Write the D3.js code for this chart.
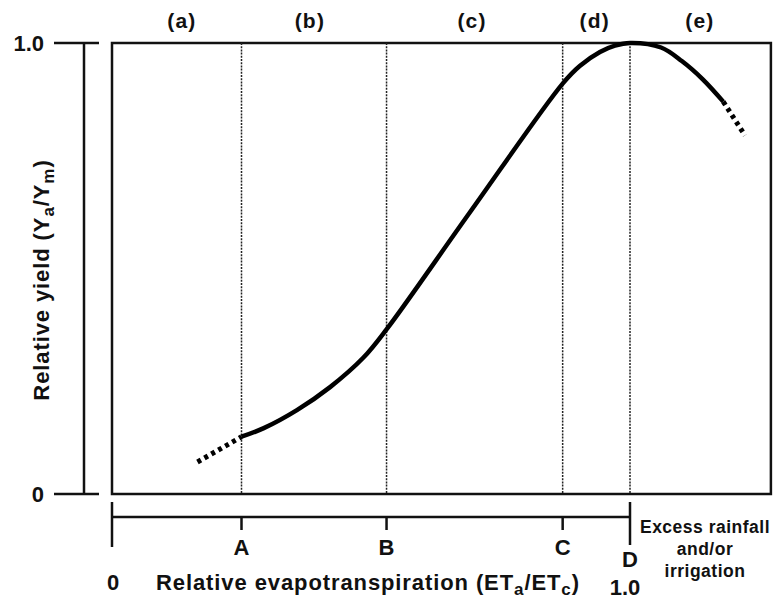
<!DOCTYPE html>
<html>
<head>
<meta charset="utf-8">
<script src="https://cdn.jsdelivr.net/npm/d3@7/dist/d3.min.js"></script>
<style>
  body { margin: 0; background: #fff; }
  text { font-family: "Liberation Sans", Arial, sans-serif; font-weight: bold; fill: #111; }
</style>
</head>
<body>
<svg width="773" height="601"></svg>
<script>
// stages across the top
var stageLabels = ["(a)", "(b)", "(c)", "(d)", "(e)"];
var stageX = [0.135, 0.382, 0.695, 0.932, 1.135];

// break points on the ET axis
var markNames = ["A", "B", "C", "D"];
var markX = [0.25, 0.53, 0.87, 1.0];

var yTicks = [0, 1.0];
var xMax = 1.272;

// yield response (x = ETa/ETc, y = Ya/Ym)
var dryTail = [[0.165, 0.071], [0.25, 0.127]];
var yieldCurve = [
  [0.25, 0.127], [0.293, 0.146], [0.357, 0.186], [0.421, 0.237], [0.485, 0.302],
  [0.53, 0.365], [0.69, 0.623], [0.87, 0.91], [0.903, 0.949], [0.942, 0.98],
  [0.971, 0.994], [1.0, 1.0], [1.06, 0.99], [1.10, 0.96], [1.14, 0.92], [1.18, 0.87]
];
var wetTail = [[1.18, 0.87], [1.222, 0.795]];

var svg = d3.select("svg");

var x = d3.scaleLinear().domain([0, 1]).range([112, 630]);
var y = d3.scaleLinear().domain([0, 1]).range([494, 43]);

var line = d3.line()
  .x(function(d) { return x(d[0]); })
  .y(function(d) { return y(d[1]); });

// plot frame
svg.append("rect")
  .attr("x", x(0)).attr("y", y(1))
  .attr("width", x(xMax) - x(0)).attr("height", y(0) - y(1))
  .attr("fill", "none").attr("stroke", "#111").attr("stroke-width", 2.5);

// dotted dividers
svg.append("g").selectAll("line")
  .data(markX)
  .enter().append("line")
    .attr("x1", function(d) { return x(d); })
    .attr("x2", function(d) { return x(d); })
    .attr("y1", y(1)).attr("y2", y(0))
    .attr("stroke", "#222").attr("stroke-width", 1.5)
    .attr("stroke-dasharray", "2,1.2");

// separate y axis bar with ticks
var yAxis = svg.append("g");
yAxis.append("line")
  .attr("x1", 84).attr("x2", 84)
  .attr("y1", y(1)).attr("y2", y(0))
  .attr("stroke", "#111").attr("stroke-width", 2.5);
yAxis.selectAll(".tick")
  .data(yTicks)
  .enter().append("line")
    .attr("x1", 54).attr("x2", 99)
    .attr("y1", function(d) { return y(d); })
    .attr("y2", function(d) { return y(d); })
    .attr("stroke", "#111").attr("stroke-width", 2.5);
yAxis.selectAll("text")
  .data(yTicks)
  .enter().append("text")
    .attr("x", 44).attr("y", function(d) { return y(d); })
    .attr("dy", "0.36em").attr("text-anchor", "end")
    .style("font-size", "22px")
    .text(function(d) { return d === 0 ? "0" : d3.format(".1f")(d); });

svg.append("text")
  .attr("transform", "translate(49,280) rotate(-90)")
  .attr("text-anchor", "middle")
  .style("font-size", "22px").style("letter-spacing", "0.9px")
  .html('Relative yield (Y<tspan dy="5" font-size="17">a</tspan><tspan dy="-5">/Y</tspan><tspan dy="5" font-size="17">m</tspan><tspan dy="-5">)</tspan>');

// x axis bar below the frame
var xAxis = svg.append("g");
var barY = 517;
xAxis.append("line")
  .attr("x1", x(0)).attr("x2", x(1))
  .attr("y1", barY).attr("y2", barY)
  .attr("stroke", "#111").attr("stroke-width", 2.5);
xAxis.selectAll(".end")
  .data([0, 1])
  .enter().append("line")
    .attr("x1", function(d) { return x(d); })
    .attr("x2", function(d) { return x(d); })
    .attr("y1", 502).attr("y2", function(d) { return d === 0 ? 547 : 545; })
    .attr("stroke", "#111").attr("stroke-width", 2.5);
xAxis.selectAll(".mark")
  .data(markX.slice(0, 3))
  .enter().append("line")
    .attr("x1", function(d) { return x(d); })
    .attr("x2", function(d) { return x(d); })
    .attr("y1", barY).attr("y2", barY + 13)
    .attr("stroke", "#111").attr("stroke-width", 2.5);
xAxis.selectAll(".markLabel")
  .data(markNames)
  .enter().append("text")
    .attr("x", function(d, i) { return x(markX[i]); })
    .attr("y", function(d, i) { return i === 3 ? 567 : 555; })
    .attr("text-anchor", "middle")
    .style("font-size", "22px")
    .text(function(d) { return d; });

xAxis.append("text")
  .attr("x", x(0) + 1).attr("y", 590)
  .attr("text-anchor", "middle").style("font-size", "22px")
  .text("0");
xAxis.append("text")
  .attr("x", x(1) - 5).attr("y", 595)
  .attr("text-anchor", "middle").style("font-size", "22px")
  .text("1.0");

svg.append("text")
  .attr("x", 368).attr("y", 590)
  .attr("text-anchor", "middle")
  .style("font-size", "22px").style("letter-spacing", "0.9px")
  .html('Relative evapotranspiration (ET<tspan dy="5" font-size="17">a</tspan><tspan dy="-5">/ET</tspan><tspan dy="5" font-size="17">c</tspan><tspan dy="-5">)</tspan>');

var excess = ["Excess rainfall", "and/or", "irrigation"];
svg.append("g").selectAll("text")
  .data(excess)
  .enter().append("text")
    .attr("x", 705).attr("y", function(d, i) { return 533 + i * 22; })
    .attr("text-anchor", "middle")
    .style("font-size", "17.5px").style("letter-spacing", "0.5px")
    .text(function(d) { return d; });

// stage labels
svg.append("g").selectAll("text")
  .data(stageLabels)
  .enter().append("text")
    .attr("x", function(d, i) { return x(stageX[i]); })
    .attr("y", 28)
    .attr("text-anchor", "middle")
    .style("font-size", "21px").style("letter-spacing", "1.2px")
    .text(function(d) { return d; });

// yield curve
svg.append("path")
  .datum(yieldCurve)
  .attr("d", line.curve(d3.curveCatmullRom.alpha(0.5)))
  .attr("fill", "none").attr("stroke", "#000").attr("stroke-width", 4.5);

svg.append("g").selectAll("path")
  .data([dryTail, wetTail])
  .enter().append("path")
    .attr("d", d3.line().x(function(d) { return x(d[0]); }).y(function(d) { return y(d[1]); }))
    .attr("fill", "none").attr("stroke", "#000").attr("stroke-width", 5)
    .attr("stroke-dasharray", "4,4");
</script>
</body>
</html>
